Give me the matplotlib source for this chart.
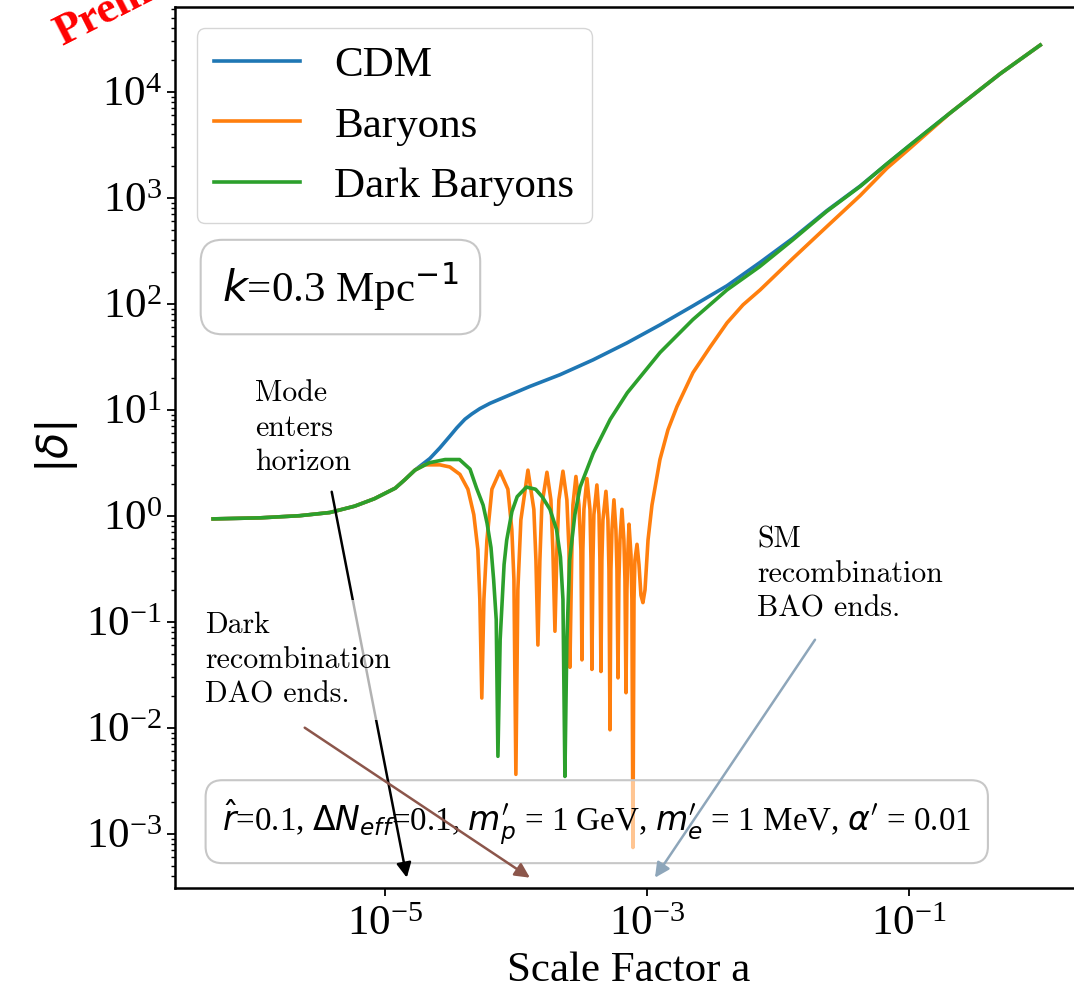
import numpy as np
import matplotlib.pyplot as plt
from matplotlib.ticker import LogLocator, NullLocator

plt.rcParams['font.family'] = ['Liberation Serif', 'DejaVu Sans']
plt.rcParams['mathtext.fontset'] = 'dejavusans'

# values as log10(a) and log10|delta|
# super-horizon part, identical for all three species
early_loga = [-6.31, -5.95, -5.65, -5.42, -5.23, -5.08, -4.92, -4.847, -4.77]
early_logd = [-0.03, -0.02, 0.00, 0.03, 0.09, 0.16, 0.26, 0.34, 0.43]

# late-time growth, identical for all three species
late_loga = [-0.687, -0.305, 0.00]
late_logd = [3.80, 4.17, 4.44]

cdm_loga = [-4.656, -4.580, -4.504, -4.450, -4.389, -4.336, -4.275, -4.198, -4.122,
            -3.893, -3.664, -3.412, -3.153, -2.901, -2.649, -2.389, -2.137, -1.885,
            -1.626, -1.374, -1.168, -1.00]
cdm_logd = [0.54, 0.64, 0.75, 0.83, 0.91, 0.96, 1.01, 1.06, 1.10,
            1.22, 1.33, 1.47, 1.63, 1.80, 1.98, 2.17, 2.39, 2.62,
            2.88, 3.11, 3.32, 3.49]

dark_loga = [-4.66, -4.54, -4.43, -4.35, -4.30, -4.25, -4.22, -4.19, -4.17,
             -4.15, -4.137, -4.12, -4.09, -4.07, -4.03, -3.99, -3.92, -3.85,
             -3.80, -3.74, -3.69, -3.66, -3.641, -3.626, -3.611, -3.59, -3.55,
             -3.51, -3.41, -3.28, -3.15, -2.90, -2.65, -2.39, -2.14, -1.89,
             -1.63, -1.37, -1.17, -1.00]
dark_logd = [0.50, 0.53, 0.53, 0.44, 0.26, 0.10, -0.07, -0.30, -0.60,
             -0.98, -2.27, -1.17, -0.46, -0.23, 0.04, 0.18, 0.27, 0.25,
             0.18, 0.06, -0.13, -0.39, -0.79, -2.46, -1.17, -0.42, 0.01,
             0.27, 0.59, 0.91, 1.16, 1.54, 1.85, 2.13, 2.35, 2.60,
             2.87, 3.11, 3.32, 3.49]

bar_loga = [-4.695, -4.580, -4.504, -4.427, -4.366, -4.321, -4.290, -4.275, -4.260,
            -4.244, -4.221, -4.183, -4.122, -4.061, -4.031, -4.015, -4.000, -3.985,
            -3.962, -3.908, -3.863, -3.847, -3.832, -3.817, -3.802, -3.763, -3.733,
            -3.718, -3.702, -3.687, -3.672, -3.641, -3.611, -3.595, -3.588, -3.573,
            -3.565, -3.542, -3.519, -3.504, -3.496, -3.489, -3.481, -3.458, -3.435,
            -3.427, -3.420, -3.412, -3.405, -3.382, -3.366, -3.359, -3.351, -3.344,
            -3.336, -3.313, -3.298, -3.290, -3.282, -3.275, -3.267, -3.252, -3.237,
            -3.229, -3.221, -3.214, -3.206, -3.191, -3.176, -3.168, -3.160, -3.153,
            -3.145, -3.137, -3.122, -3.115, -3.107, -3.099, -3.092, -3.076, -3.061,
            -3.046, -3.031, -3.015, -2.992, -2.962, -2.901, -2.840, -2.771, -2.649,
            -2.519, -2.389, -2.267, -2.137, -1.885, -1.626, -1.374, -1.168, -1.00]
bar_logd = [0.48, 0.48, 0.46, 0.39, 0.25, 0.01, -0.32, -0.79, -1.72,
            -0.79, -0.23, 0.25, 0.42, 0.25, -0.13, -0.60, -2.44, -0.70,
            -0.04, 0.43, 0.06, -0.42, -1.22, -0.42, 0.10, 0.41, 0.15,
            -0.32, -1.09, -0.32, 0.15, 0.42, 0.15, -0.32, -1.43, -0.32,
            0.10, 0.37, 0.10, -0.32, -1.36, -0.32, 0.06, 0.35, 0.06,
            -0.42, -1.45, -0.42, 0.01, 0.29, 0.01, -0.42, -1.47, -0.42,
            -0.04, 0.23, -0.04, -0.51, -2.02, -0.51, -0.13, 0.15, -0.13,
            -0.51, -1.53, -0.60, -0.23, 0.06, -0.23, -0.60, -1.67, -0.70,
            -0.32, -0.08, -0.37, -0.79, -3.13, -0.79, -0.42, -0.27, -0.46,
            -0.75, -0.82, -0.70, -0.23, 0.10, 0.53, 0.81, 1.03, 1.35,
            1.59, 1.82, 1.99, 2.13, 2.43, 2.73, 3.02, 3.28, 3.46]

series = [
    ("CDM", cdm_loga, cdm_logd, "tab:blue"),
    ("Baryons", bar_loga, bar_logd, "tab:orange"),
    ("Dark Baryons", dark_loga, dark_logd, "tab:green"),
]

fig = plt.figure(figsize=(10.74, 9.93), dpi=100)
ax = fig.add_axes([0.163, 0.106, 0.844, 0.887])

for label, la, ld, color in series:
    loga = np.array(early_loga + la + late_loga)
    logd = np.array(early_logd + ld + late_logd)
    ax.loglog(10**loga, 10**logd, color=color, lw=2.6, label=label)

ax.set_xlim(10**-6.6, 10**0.315)
ax.set_ylim(10**-3.51, 10**4.8)
ax.set_xticks([1e-5, 1e-3, 1e-1])
ax.xaxis.set_minor_locator(NullLocator())
ax.yaxis.set_major_locator(LogLocator(base=10, numticks=20))
ax.yaxis.set_minor_locator(LogLocator(base=10, subs=np.arange(2, 10), numticks=20))
ax.tick_params(which='major', labelsize=31, length=6, width=1.3)
ax.tick_params(axis='x', which='major', pad=7)
ax.tick_params(which='minor', length=3, width=1.0)
for s in ax.spines.values():
    s.set_linewidth(1.8)

ax.set_xlabel("Scale Factor a", fontsize=31, labelpad=5)
ax.set_ylabel(r"$|\delta|$", fontsize=31)

ax.legend(loc='upper left', fontsize=31)

ax.text(0.052, 0.682, r"$k$=0.3 Mpc$^{-1}$", transform=ax.transAxes, fontsize=31,
        va='center', bbox=dict(boxstyle='round,pad=0.5', fc='white', ec='0.78', lw=1.5))

ax.text(0.052, 0.075,
        r"$\hat{r}$=0.1, $\Delta N_{eff}$=0.1, $m^{\prime}_p$ = 1 GeV, "
        r"$m^{\prime}_e$ = 1 MeV, $\alpha^{\prime}$ = 0.01",
        transform=ax.transAxes, fontsize=23.9, va='center', zorder=3,
        bbox=dict(boxstyle='round,pad=0.5', fc=(1, 1, 1, 0.55), ec='0.78', lw=1.5))

# annotation arrows (tail, head) in data coordinates
arrows = [
    ((10**-5.405, 10**0.226), (10**-4.832, 10**-3.415), "black"),
    ((10**-5.611, 10**-2.0), (10**-3.893, 10**-3.415), "tab:brown"),
    ((10**-1.718, 10**-1.17), (10**-2.939, 10**-3.415), "#8ea6ba"),
]
for tail, head, color in arrows:
    ax.annotate("", xy=head, xytext=tail, zorder=4,
                arrowprops=dict(arrowstyle='-|>', color=color, lw=1.8,
                                mutation_scale=22, shrinkA=0, shrinkB=0))

note = dict(transform=ax.transAxes, fontfamily='cmr10', fontsize=21.5,
            va='top', linespacing=1.33)
ax.text(0.0883, 0.5766, "Mode\nenters\nhorizon", **note)
ax.text(0.0331, 0.3133, "Dark\nrecombination\nDAO ends.", zorder=5,
        bbox=dict(boxstyle='square,pad=0.4', fc='white', ec='none', alpha=0.7), **note)
ax.text(0.6424, 0.4109, "SM\nrecombination\nBAO ends.", **note)

fig.text(62 / 1074, 1 - 46 / 993, "Preliminary", color='red', fontsize=32,
         fontweight='bold', rotation=27, rotation_mode='anchor',
         ha='left', va='baseline')

fig.savefig("out.png", dpi=100)
